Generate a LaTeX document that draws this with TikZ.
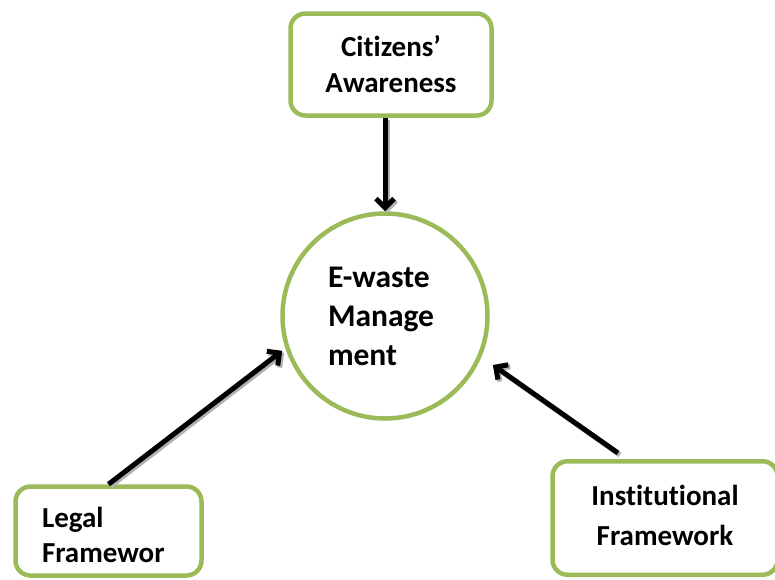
\documentclass[tikz,border=0pt]{standalone}
\usepackage{fontspec}
\setmainfont{Carlito}[Ligatures={TeX,NoCommon}]
\usetikzlibrary{calc,shapes,positioning}
\usetikzlibrary{arrows.meta}
\definecolor{leafgreen}{HTML}{9BBB59}
\tikzset{>={Straight Barb[length=9pt,width=18pt]}}

\begin{document}
\begin{tikzpicture}[x=1pt,y=-1pt]
        \tikzstyle{gbox} = [draw=leafgreen, line width=4.5pt, rounded corners=15pt, inner sep=0pt,
                font=\fontsize{29}{36}\selectfont\bfseries]
        \tikzstyle{gcirc} = [draw=leafgreen, line width=4.5pt, circle, inner sep=0pt, align=left,
                font=\fontsize{31.5}{39}\selectfont\bfseries]
        \tikzstyle{feed} = [->, line width=5pt,
                preaction={draw=gray!60, ->, line width=5pt, transform canvas={xshift=2pt,yshift=-2pt}}]
        \useasboundingbox (0,0) rectangle (775,579);
        \clip (0,0) rectangle (775,579);

        \node[gbox, minimum width=201pt, minimum height=102pt, align=center] (citizens) at (391,64.5) {Citizens’\\Awareness};
        \node[gcirc, minimum size=205pt, text width=114pt] (ewaste) at (385,316) {E-waste\\Manage\\ment};
        \node[gbox, minimum width=186pt, minimum height=89pt, text width=133pt, align=left,
                font=\fontsize{29}{35}\selectfont\bfseries] (legal) at (108.5,531) {\rule{0pt}{29pt}Legal\\Framewor};
        \node[gbox, minimum width=225pt, minimum height=113.5pt, align=center,
                font=\fontsize{29}{40}\selectfont\bfseries] (inst) at (665,518) {Institutional\\Framework\rule[-6pt]{0pt}{6pt}};

        \draw[feed] (citizens.south -| ewaste.north) to (ewaste.north);
        \draw[feed, shorten >=4pt] (legal.north) to (ewaste.198);
        \draw[feed, shorten >=14pt] ([xshift=-47pt,yshift=6pt]inst.north) to (ewaste.337);
\end{tikzpicture}
\end{document}
